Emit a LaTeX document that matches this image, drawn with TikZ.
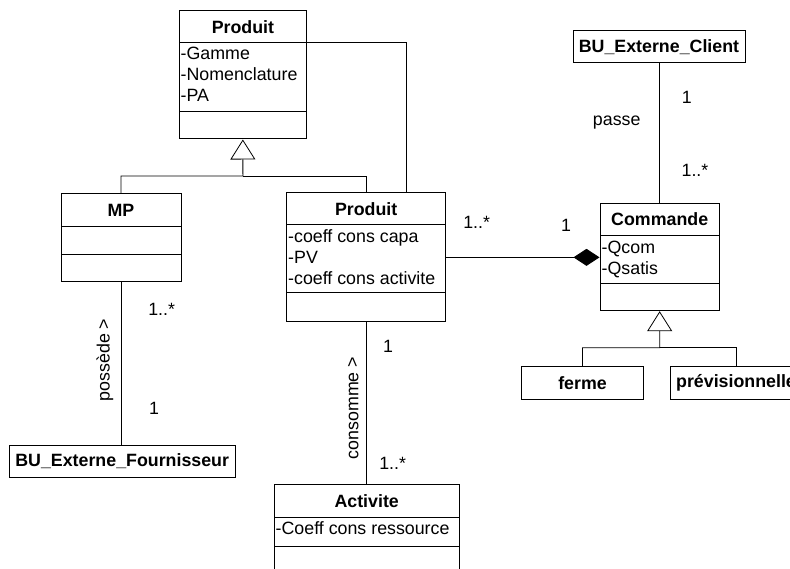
\documentclass[tikz,border=0pt]{standalone}
\usepackage{fontspec}
\setmainfont{Liberation Sans}
\usetikzlibrary{arrows.meta,fit}
\newcommand{\diagfont}{\fontsize{17.8}{21}\selectfont}
\newcommand{\umlclass}[7]{%
  \node[box,fit={(#2,#3) (#4,#5)}] (#1) {};
  \draw[line width=1pt] (#2,#6) -- (#4,#6);
  \draw[line width=1pt] (#2,#7) -- (#4,#7);
}

\begin{document}
\begin{tikzpicture}[x=1pt,y=-1pt,
  every node/.style={font=\diagfont},
  box/.style={draw,line width=1pt,inner sep=0pt},
  classtitle/.style={font=\diagfont\bfseries},
  attr/.style={anchor=base west,inner sep=0pt},
  mult/.style={inner sep=0pt},
  assoc/.style={line width=0.8pt},
  inherit/.style={line width=0.8pt,-{Triangle[open,length=20pt,width=25pt]}},
  compose/.style={line width=0.8pt,-{Diamond[length=26pt,width=17pt]}}]
  \useasboundingbox (0,0) rectangle (790,569);
  \clip (0,0) rectangle (790,569);
  % classes with compartments
  \umlclass{pa}{179}{11}{306.7}{139}{43}{112}
  \node[classtitle] (pa-t) at (242.9,27) {Produit};
  \node[attr] (pa-a1) at (180.5,60) {-Gamme};
  \node[attr] (pa-a2) at (180.5,80.5) {-Nomenclature};
  \node[attr] (pa-a3) at (180.5,101.7) {-PA};
  \umlclass{mp}{61}{194}{181}{281.7}{226.7}{255}
  \node[classtitle] (mp-t) at (121,210.3) {MP};
  \umlclass{pb}{286.7}{193}{445.7}{321.7}{225}{293}
  \node[classtitle] (pb-t) at (366.2,209) {Produit};
  \node[attr] (pb-a1) at (288,242.5) {-coeff cons capa};
  \node[attr] (pb-a2) at (288,263.3) {-PV};
  \node[attr] (pb-a3) at (288,284.3) {-coeff cons activite};
  \umlclass{cmd}{600}{203.3}{719.3}{310.7}{235.7}{283.3}
  \node[classtitle] (cmd-t) at (659.7,219.5) {Commande};
  \node[attr] (cmd-a1) at (601.5,253.3) {-Qcom};
  \node[attr] (cmd-a2) at (601.5,275) {-Qsatis};
  \umlclass{act}{274}{484.3}{459.3}{600}{517.3}{546.7}
  \node[classtitle] (act-t) at (366.7,500.8) {Activite};
  \node[attr] (act-a1) at (275.5,534) {-Coeff cons ressource};
  % plain boxes
  \node[box,classtitle,minimum width=172pt,minimum height=32pt] (client) at (659,46.7) {BU\_Externe\_Client};
  \node[box,classtitle,minimum width=225.7pt,minimum height=32.3pt] (four) at (122.2,461.2) {BU\_Externe\_Fournisseur};
  \node[box,classtitle,minimum width=121.6pt,minimum height=32.6pt] (ferme) at (582.5,383) {ferme};
  \node[box,classtitle,minimum width=132pt,minimum height=32.6pt] (previs) at (736,383) {prévisionnelle};
  % generalisations
  \coordinate (genP) at (242.9,176);
  \draw[inherit] (mp.north) |- (genP) -- (pa.south);
  \draw[assoc] (pb.north) |- (genP);
  \coordinate (genC) at (659.7,347.7);
  \draw[inherit] (ferme.north) |- (genC) -- (cmd.south);
  \draw[assoc] (previs.north) |- (genC);
  % associations
  \draw[assoc] ([yshift=-32pt]pa.north east) -| ([xshift=40.5pt]pb.north);
  \draw[compose] (pb.east) -- (pb.east -| cmd.west);
  \draw[assoc] (client.south) -- (client.south |- cmd.north);
  \draw[assoc] (mp.south) -- (mp.south |- four.north);
  \draw[assoc] (pb.south) -- (pb.south |- act.north);
  \node[mult] (m1) at (476.7,222) {1..*};
  \node[mult] (m2) at (566,225) {1};
  \node[mult] (m3) at (686.7,97) {1};
  \node[mult] (passe) at (616.7,123) {passe};
  \node[mult] (m4) at (695,170) {1..*};
  \node[mult] (m5) at (161.7,309) {1..*};
  \node[mult,rotate=90] (possede) at (105,360) {possède >};
  \node[mult] (m6) at (154,408) {1};
  \node[mult] (m7) at (388,346.7) {1};
  \node[mult,rotate=90] (consomme) at (353.3,408) {consomme >};
  \node[mult] (m8) at (392.7,463) {1..*};
\end{tikzpicture}
\end{document}
